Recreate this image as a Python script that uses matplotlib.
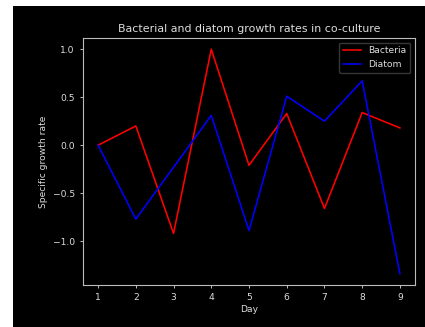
import matplotlib
matplotlib.use("Agg")
import matplotlib.pyplot as plt
from matplotlib.patches import Rectangle

days     = [1, 2, 3, 4, 5, 6, 7, 8, 9]
bacteria = [0.0, 0.20, -0.92, 1.00, -0.21, 0.33, -0.66, 0.34, 0.18]
diatom   = [0.0, -0.77, -0.23, 0.31, -0.89, 0.51, 0.25, 0.67, -1.34]

plt.style.use("dark_background")

fig = plt.figure(figsize=(4.25, 3.27), dpi=100)
fig.patch.set_facecolor("white")
# screenshot-like black panel with white strip at top/left
fig.patches.append(Rectangle((13/425, 0), 1 - 13/425, 321/327,
                             transform=fig.transFigure, facecolor="black",
                             edgecolor="none", zorder=-10))

ax = fig.add_axes([83/425, 1 - 285/327, (415 - 83)/425, (285 - 38)/327])
ax.set_facecolor("black")
ax.plot(days, bacteria, color="red",  lw=1.15, label="Bacteria")
ax.plot(days, diatom,   color="blue", lw=1.15, label="Diatom")

ax.set_xticks(days)
ax.set_yticks([-1.0, -0.5, 0.0, 0.5, 1.0])
ax.tick_params(labelsize=6.6, colors="#dddddd", length=2.5, width=0.6)
for s in ax.spines.values():
    s.set_color("#bbbbbb")
    s.set_linewidth(0.8)

ax.set_xlabel("Day", fontsize=6.6, color="#dddddd", labelpad=2)
ax.set_ylabel("Specific growth rate", fontsize=6.6, color="#dddddd", labelpad=3)
ax.set_title("Bacterial and diatom growth rates in co-culture",
             fontsize=7.9, color="#dddddd", pad=4)

leg = ax.legend(loc="upper right", fontsize=6.6, handlelength=2.0,
                framealpha=0.8, edgecolor="#444444")
for t in leg.get_texts():
    t.set_color("#dddddd")

fig.savefig("out.png", dpi=100, facecolor=fig.get_facecolor())
